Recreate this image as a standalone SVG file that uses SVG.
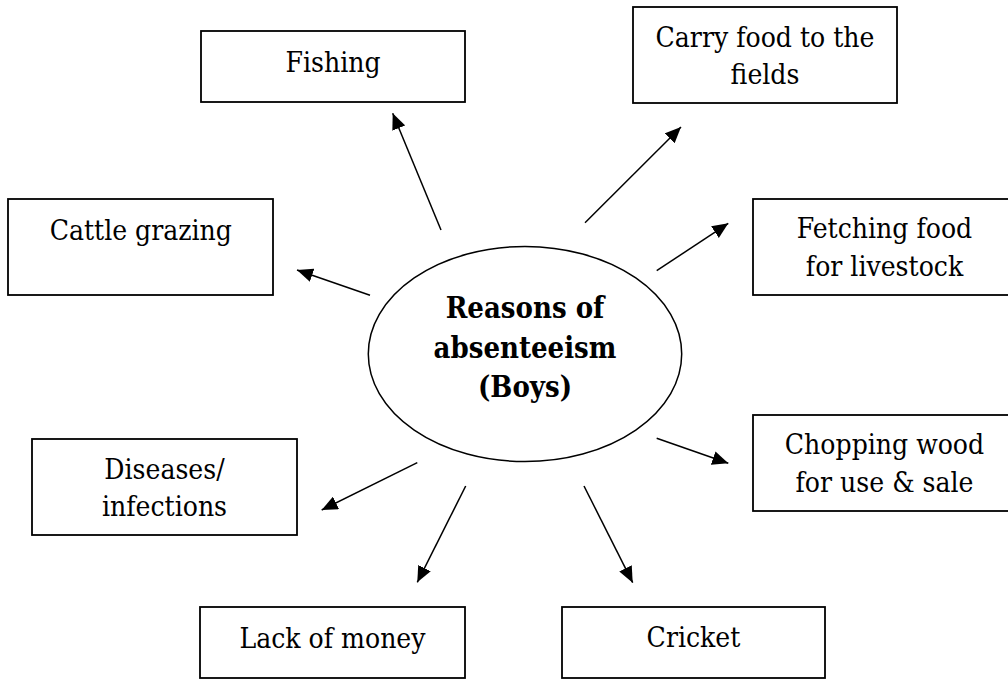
<svg xmlns="http://www.w3.org/2000/svg" width="1008" height="679" viewBox="0 0 1008 679">
<style>
.box{fill:#fff;stroke:#000;stroke-width:1.8}
.t{font-family:'DejaVu Serif Condensed','DejaVu Serif',serif;font-stretch:condensed;font-size:28px;fill:#000;text-anchor:middle}
.b{font-family:'DejaVu Serif Condensed','DejaVu Serif',serif;font-stretch:condensed;font-size:29px;font-weight:bold;fill:#000;text-anchor:middle}
.c{stroke:#000;stroke-width:1.5;fill:none}
</style>
<defs>
<marker id="ah" markerUnits="userSpaceOnUse" markerWidth="16" markerHeight="14" viewBox="0 0 16 14" refX="16" refY="7" orient="auto">
<path d="M0,0 L16,7 L0,14 z" fill="#000"/>
</marker>
</defs>
<rect width="1008" height="679" fill="#fff"/>
<g id="connectors">
<line class="c" x1="441" y1="230" x2="392.7" y2="113.3" marker-end="url(#ah)"/>
<line class="c" x1="585" y1="222.7" x2="681" y2="127" marker-end="url(#ah)"/>
<line class="c" x1="370" y1="295.3" x2="297" y2="270" marker-end="url(#ah)"/>
<line class="c" x1="656.7" y1="270.7" x2="728.3" y2="223.3" marker-end="url(#ah)"/>
<line class="c" x1="656.7" y1="438.3" x2="728.3" y2="463.3" marker-end="url(#ah)"/>
<line class="c" x1="417.3" y1="462.7" x2="321.7" y2="510" marker-end="url(#ah)"/>
<line class="c" x1="465.7" y1="486" x2="417.3" y2="582.3" marker-end="url(#ah)"/>
<line class="c" x1="584" y1="486" x2="632.7" y2="582.7" marker-end="url(#ah)"/>
</g>
<g id="center">
<ellipse cx="525" cy="354" rx="156.7" ry="107.5" fill="#fff" stroke="#000" stroke-width="1.5"/>
<text class="b" x="525" y="318.3">Reasons of</text>
<text class="b" x="525" y="357.7">absenteeism</text>
<text class="b" x="525" y="396.7">(Boys)</text>
</g>
<g id="fishing">
<rect class="box" x="201" y="31" width="264" height="71"/>
<text class="t" x="333" y="71.7">Fishing</text>
</g>
<g id="carry">
<rect class="box" x="633" y="7" width="264" height="96"/>
<text class="t" x="765" y="46.7">Carry food to the</text>
<text class="t" x="765" y="84.3">fields</text>
</g>
<g id="cattle">
<rect class="box" x="8" y="199" width="265" height="96"/>
<text class="t" x="140.8" y="240">Cattle grazing</text>
</g>
<g id="fetching">
<rect class="box" x="753" y="199" width="264" height="96"/>
<text class="t" x="884.5" y="238.3">Fetching food</text>
<text class="t" x="884.5" y="276">for livestock</text>
</g>
<g id="chopping">
<rect class="box" x="753" y="415" width="264" height="96"/>
<text class="t" x="884.5" y="454.3">Chopping wood</text>
<text class="t" x="884.5" y="492.3">for use &amp; sale</text>
</g>
<g id="diseases">
<rect class="box" x="32" y="439" width="265" height="96"/>
<text class="t" x="164.5" y="479">Diseases/</text>
<text class="t" x="164.5" y="515.7">infections</text>
</g>
<g id="lack">
<rect class="box" x="200" y="607" width="265" height="71"/>
<text class="t" x="332.5" y="647.7">Lack of money</text>
</g>
<g id="cricket">
<rect class="box" x="562" y="607" width="263" height="71"/>
<text class="t" x="693.5" y="646.7">Cricket</text>
</g>
</svg>
